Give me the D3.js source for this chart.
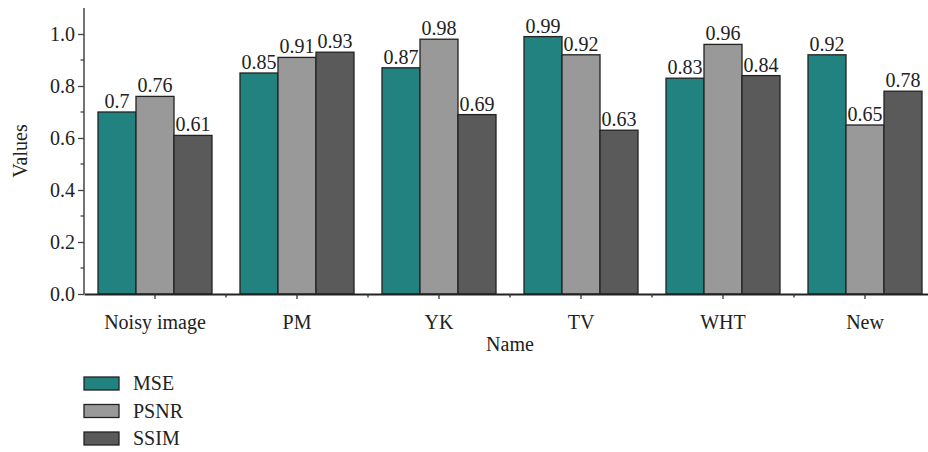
<!DOCTYPE html>
<html><head><meta charset="utf-8">
<script src="https://cdn.jsdelivr.net/npm/d3@7"></script>
<style>body{margin:0;background:#fff}svg{display:block;overflow:hidden}</style>
</head><body><svg id="c" width="928" height="452" font-family="'Liberation Serif', 'Times New Roman', serif"></svg>
<script>
const categories = ["Noisy image","PM","YK","TV","WHT","New"];
const seriesNames = ["MSE","PSNR","SSIM"];
const mse  = [0.70,0.85,0.87,0.99,0.83,0.92];
const psnr = [0.76,0.91,0.98,0.92,0.96,0.65];
const ssim = [0.61,0.93,0.69,0.63,0.84,0.78];
const labelsMse  = ["0.7","0.85","0.87","0.99","0.83","0.92"];
const labelsPsnr = ["0.76","0.91","0.98","0.92","0.96","0.65"];
const labelsSsim = ["0.61","0.93","0.69","0.63","0.84","0.78"];
const yTicks = [0,0.2,0.4,0.6,0.8,1.0];
const colors = ["#21827f","#999999","#5a5a5a"];

const FONT = "'Liberation Serif', 'Times New Roman', serif";
const series = [mse,psnr,ssim];
const seriesLabels = [labelsMse,labelsPsnr,labelsSsim];
const svg = d3.select("#c");
const x0 = 84, xEnd = 936, yBase = 294;
const x = d3.scaleBand().domain(categories).range([x0,xEnd]).paddingInner(0).paddingOuter(0);
const y = d3.scaleLinear().domain([0,1.1]).range([yBase,8]);
const bw = 38;

function txt(sel){ return sel.style("font-family",FONT).style("fill","#222"); }

// bars
categories.forEach((c,i)=>{
  seriesNames.forEach((s,j)=>{
    const cx = x(c)+x.bandwidth()/2;
    const bx = cx - 1.5*bw + j*bw;
    svg.append("rect").attr("x",bx).attr("y",y(series[j][i])).attr("width",bw)
      .attr("height",y(0)-y(series[j][i])).attr("fill",colors[j]).attr("stroke","#222").attr("stroke-width",1.3);
    txt(svg.append("text").attr("x",bx+bw/2).attr("y",y(series[j][i])-4).attr("text-anchor","middle")
      .style("font-size","20px").text(seriesLabels[j][i]));
  });
});

// y axis
const ya = d3.axisLeft(y).tickValues(yTicks).tickFormat(d3.format(".1f")).tickSize(6).tickSizeOuter(0);
const gy = svg.append("g").attr("transform",`translate(${x0},0)`).call(ya);
gy.select(".domain").attr("stroke","#444").attr("stroke-width",1.5).attr("d",`M0,${yBase}V8`);
gy.selectAll(".tick line").attr("stroke","#444").attr("stroke-width",1.3);
txt(gy.selectAll(".tick text")).style("font-size","20px").attr("x",-9);
const minorY = d3.range(1,11,2).map(d=>d/10);
gy.selectAll(".minor").data(minorY).enter().append("line").attr("x1",-3.5).attr("x2",0)
  .attr("y1",d=>y(d)).attr("y2",d=>y(d)).attr("stroke","#444").attr("stroke-width",1.3);

// x axis
const xa = d3.axisBottom(x).tickSize(5).tickSizeOuter(0);
const gx = svg.append("g").attr("transform",`translate(0,${yBase})`).call(xa);
gx.select(".domain").attr("stroke","#222").attr("stroke-width",2.2);
gx.selectAll(".tick line").attr("stroke","#333").attr("stroke-width",1.3);
txt(gx.selectAll(".tick text")).style("font-size","20px").attr("dy",null).attr("y",35);
const edges = categories.slice(1).map(c=>x(c));
gx.selectAll(".minor").data(edges).enter().append("line").attr("x1",d=>d).attr("x2",d=>d)
  .attr("y1",0).attr("y2",3.5).attr("stroke","#333").attr("stroke-width",1.3);

// titles
txt(svg.append("text").attr("x",510).attr("y",351).attr("text-anchor","middle").style("font-size","20px").text("Name"));
txt(svg.append("text").attr("transform","translate(27,151) rotate(-90)").attr("text-anchor","middle").style("font-size","20px").text("Values"));

// legend
seriesNames.forEach((s,j)=>{
  const ly = 377 + j*27.5;
  svg.append("rect").attr("x",84).attr("y",ly).attr("width",35).attr("height",13)
    .attr("fill",colors[j]).attr("stroke","#222").attr("stroke-width",1.3);
  txt(svg.append("text").attr("x",133).attr("y",ly+13).style("font-size","20px").text(s));
});
</script></body></html>
